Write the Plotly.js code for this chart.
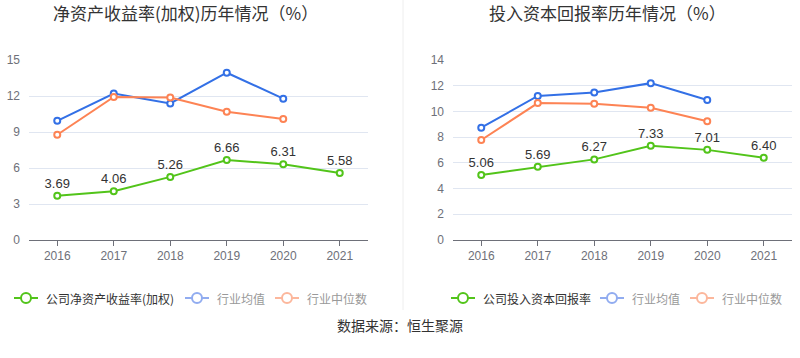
<!DOCTYPE html>
<html>
<head>
<meta charset="utf-8">
<script src="https://cdn.plot.ly/plotly-3.0.1.min.js"></script>
<style>html,body{margin:0;padding:0;background:#fff}#chart{width:800px;height:358px}</style>
</head>
<body>
<div id="chart"></div>
<script>
var years = ['2016','2017','2018','2019','2020','2021'];
var roeCompany = [3.69, 4.06, 5.26, 6.66, 6.31, 5.58];
var roeIndustryAvg = [9.93, 12.2, 11.38, 13.94, 11.78, null];
var roeIndustryMed = [8.77, 11.92, 11.87, 10.69, 10.08, null];
var roicCompany = [5.06, 5.69, 6.27, 7.33, 7.01, 6.40];
var roicIndustryAvg = [8.74, 11.2, 11.48, 12.2, 10.89, null];
var roicIndustryMed = [7.78, 10.65, 10.6, 10.29, 9.23, null];
var leftTitle = '净资产收益率(加权)历年情况（%）';
var rightTitle = '投入资本回报率历年情况（%）';
var leftLegend = ['公司净资产收益率(加权)', '行业均值', '行业中位数'];
var rightLegend = ['公司投入资本回报率', '行业均值', '行业中位数'];
var sourceText = '数据来源：恒生聚源';

var GREEN = '#52c41a', BLUE = '#3370e6', ORANGE = '#fd8354';
var FONT = 'Liberation Sans, Arial, Noto Sans CJK SC, sans-serif';

function series(x, y, color, xa, ya, withText) {
  var t = {
    x: x, y: y, xaxis: xa, yaxis: ya, type: 'scatter',
    mode: withText ? 'lines+markers+text' : 'lines+markers',
    line: {color: color, width: 2},
    marker: {symbol: 'circle', size: 6, color: '#fff', line: {color: color, width: 2}},
    hoverinfo: 'skip', showlegend: false, cliponaxis: false
  };
  if (withText) {
    t.text = y.map(function(v){ return v.toFixed(2); });
    t.textposition = 'top center';
    t.textfont = {size: 13, color: '#333', family: FONT};
  }
  return t;
}

var data = [
  series(years, roeIndustryAvg, BLUE, 'x', 'y', false),
  series(years, roeIndustryMed, ORANGE, 'x', 'y', false),
  series(years, roeCompany, GREEN, 'x', 'y', true),
  series(years, roicIndustryAvg, BLUE, 'x2', 'y2', false),
  series(years, roicIndustryMed, ORANGE, 'x2', 'y2', false),
  series(years, roicCompany, GREEN, 'x2', 'y2', true)
];

var yTop = 1 - 60/358, yBot = 1 - 240/358;
function xaxis(d, anchor) {
  return {
    domain: d, anchor: anchor, type: 'category', range: [-0.5, 5.5],
    showgrid: false, showline: true, linecolor: '#6E7079', linewidth: 1,
    ticks: 'outside', ticklen: 5, tickcolor: '#6E7079',
    tickfont: {size: 12, color: '#6E7079', family: FONT}, fixedrange: true
  };
}
function yaxis(anchor, max, dtick) {
  return {
    domain: [yBot, yTop], anchor: anchor, range: [0, max], dtick: dtick,
    showgrid: true, gridcolor: '#E0E6F1', gridwidth: 1, zeroline: false,
    showline: false, ticks: '', ticklabelstandoff: 8,
    tickfont: {size: 12, color: '#6E7079', family: FONT}, fixedrange: true
  };
}

var shapes = [
  {type: 'line', xref: 'paper', yref: 'paper', x0: 403/800, x1: 403/800, y0: 1, y1: 1 - 310/358,
   line: {color: '#eeeeee', width: 1}}
];
var annotations = [
  {text: leftTitle, xref: 'paper', yref: 'paper', x: 185/800, y: 1 - 13/358, xanchor: 'center', yanchor: 'middle',
   showarrow: false, font: {size: 17, color: '#333', family: 'Noto Sans CJK SC, sans-serif'}},
  {text: rightTitle, xref: 'paper', yref: 'paper', x: 607/800, y: 1 - 13/358, xanchor: 'center', yanchor: 'middle',
   showarrow: false, font: {size: 17, color: '#333', family: 'Noto Sans CJK SC, sans-serif'}},
  {text: sourceText, xref: 'paper', yref: 'paper', x: 400/800, y: 1 - 325/358, xanchor: 'center', yanchor: 'middle',
   showarrow: false, font: {size: 14, color: '#333', family: 'Noto Sans CJK SC, sans-serif'}}
];

function legendItem(cx, color, label, textColor) {
  var yy = 1 - 298/358;
  shapes.push({type: 'line', xref: 'paper', yref: 'paper', x0: (cx-12)/800, x1: (cx+12)/800, y0: yy, y1: yy,
    line: {color: color, width: 2}});
  shapes.push({type: 'circle', xref: 'paper', yref: 'paper', x0: (cx-5)/800, x1: (cx+5)/800,
    y0: yy - 5/358, y1: yy + 5/358, fillcolor: '#fff', line: {color: color, width: 2}});
  annotations.push({text: label, xref: 'paper', yref: 'paper', x: (cx+18)/800, y: yy, xanchor: 'left', yanchor: 'middle',
    showarrow: false, font: {size: 12, color: textColor, family: 'Noto Sans CJK SC, sans-serif'}});
}
legendItem(26, GREEN, leftLegend[0], '#333');
legendItem(197, '#91acf0', leftLegend[1], '#999');
legendItem(287, '#fcb79c', leftLegend[2], '#999');
legendItem(463, GREEN, rightLegend[0], '#333');
legendItem(612, '#91acf0', rightLegend[1], '#999');
legendItem(702, '#fcb79c', rightLegend[2], '#999');

var layout = {
  width: 800, height: 358, margin: {l: 0, r: 0, t: 0, b: 0},
  paper_bgcolor: '#fff', plot_bgcolor: '#fff', showlegend: false,
  xaxis: xaxis([29/800, 368/800], 'y'),
  yaxis: yaxis('x', 15, 3),
  xaxis2: xaxis([453/800, 792/800], 'y2'),
  yaxis2: yaxis('x2', 14, 2),
  shapes: shapes, annotations: annotations,
  font: {family: FONT}
};

Plotly.newPlot('chart', data, layout, {staticPlot: true, displayModeBar: false});
</script>
</body>
</html>
